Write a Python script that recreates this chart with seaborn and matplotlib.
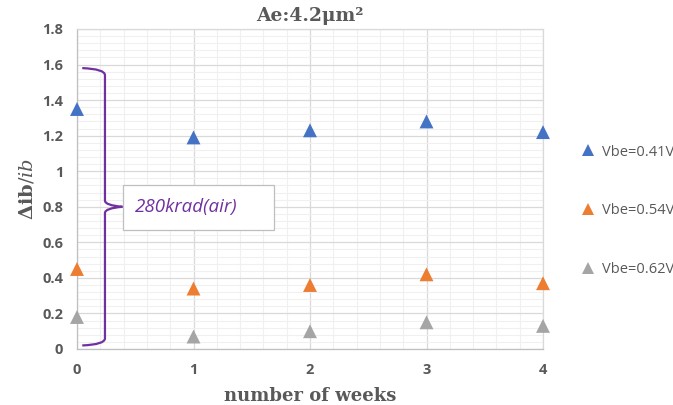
import numpy as np
import pandas as pd
import seaborn as sns
import matplotlib.pyplot as plt
from matplotlib.ticker import MultipleLocator
from matplotlib.path import Path
from matplotlib.patches import PathPatch, Rectangle

# weeks after irradiation
weeks = [0, 1, 2, 3, 4]
# relative base-current change for each bias
vbe_041 = [1.35, 1.19, 1.23, 1.28, 1.22]
vbe_054 = [0.45, 0.34, 0.36, 0.42, 0.37]
vbe_062 = [0.18, 0.07, 0.10, 0.15, 0.13]
series_labels = ["Vbe=0.41V", "Vbe=0.54V", "Vbe=0.62V"]
colors = ["#4472C4", "#ED7D31", "#A5A5A5"]
y_ticks = [0, 0.2, 0.4, 0.6, 0.8, 1, 1.2, 1.4, 1.6, 1.8]
y_tick_labels = ["0", "0.2", "0.4", "0.6", "0.8", "1", "1.2", "1.4", "1.6", "1.8"]

df = pd.DataFrame({
    "week": weeks * 3,
    "value": vbe_041 + vbe_054 + vbe_062,
    "series": sum([[s] * len(weeks) for s in series_labels], []),
})

sns.set_theme(style="white")
plt.rcParams["mathtext.fontset"] = "dejavuserif"

fig = plt.figure(figsize=(6.73, 4.05), dpi=100)
ax = fig.add_axes([77 / 673, 1 - 349 / 405, (543 - 77) / 673, (349 - 29) / 405])

sns.scatterplot(data=df, x="week", y="value", hue="series", hue_order=series_labels,
                palette=colors, marker="^", s=100, linewidth=0, ax=ax, zorder=5)
for coll in ax.collections:
    coll.set_clip_on(False)

ax.set_xlim(0, 4)
ax.set_ylim(0, 1.8)
ax.set_xticks(weeks)
ax.set_yticks(y_ticks)
ax.set_yticklabels(y_tick_labels)
ax.xaxis.set_minor_locator(MultipleLocator(0.2))
ax.yaxis.set_minor_locator(MultipleLocator(0.04))
ax.grid(which="major", color="#d9d9d9", linewidth=0.9)
ax.grid(which="minor", color="#f0f0f0", linewidth=0.8)
ax.set_axisbelow(True)
for sp in ax.spines.values():
    sp.set_color("#d9d9d9")
    sp.set_linewidth(0.9)
ax.spines["left"].set_color("#bfbfbf")
ax.spines["bottom"].set_color("#bfbfbf")

ax.tick_params(axis="both", which="major", length=4, width=0.9, color="#bfbfbf",
               labelcolor="#595959", labelsize=10.5, pad=6)
ax.tick_params(axis="both", which="minor", length=0)
for lab in ax.get_xticklabels() + ax.get_yticklabels():
    lab.set_fontfamily("Open Sans")
    lab.set_fontweight("bold")

ax.set_title("Ae:4.2μm²", family="DejaVu Serif", fontweight="bold", fontsize=13.5,
             color="#595959", pad=6)
ax.set_xlabel("number of weeks", family="DejaVu Serif", fontweight="bold",
              fontsize=13, color="#595959", labelpad=7)
ax.set_ylabel(r"$\mathbf{\Delta ib}/\mathit{ib}$", fontsize=14, color="#595959", labelpad=4)

# brace marking the irradiation dose
bx0, bx1, yt, yb, ym = 0.045, 0.24, 1.58, 0.02, 0.80
verts = [(bx0, yt), (bx1, yt - 0.005), (bx1, yt - 0.04),
         (bx1, ym + 0.035), (bx1, ym + 0.008), (bx1 + 0.15, ym),
         (bx1, ym - 0.008), (bx1, ym - 0.035),
         (bx1, yb + 0.04), (bx1, yb + 0.005), (bx0, yb)]
codes = [Path.MOVETO, Path.CURVE3, Path.CURVE3,
         Path.LINETO, Path.CURVE3, Path.CURVE3,
         Path.CURVE3, Path.CURVE3,
         Path.LINETO, Path.CURVE3, Path.CURVE3]
ax.add_patch(PathPatch(Path(verts, codes), fill=False, edgecolor="#7030A0",
                       linewidth=1.6, zorder=6, clip_on=False))
ax.add_patch(Rectangle((0.395, 0.67), 1.30, 0.255, facecolor="white",
                       edgecolor="#bfbfbf", linewidth=0.9, zorder=6))
ax.text(0.50, 0.80, "280krad(air)", color="#7030A0", fontsize=13.5, style="italic",
        family="Open Sans", va="center", ha="left", zorder=7)

handles, labels = ax.get_legend_handles_labels()
leg = ax.legend(handles, labels, loc="upper left", bbox_to_anchor=(1.038, 0.68),
                frameon=False, labelspacing=3.0, handletextpad=-0.1,
                markerscale=0.8, fontsize=10.5)
for t in leg.get_texts():
    t.set_color("#595959")
    t.set_fontfamily("Open Sans")

fig.savefig("out.png", dpi=100, facecolor="white")
